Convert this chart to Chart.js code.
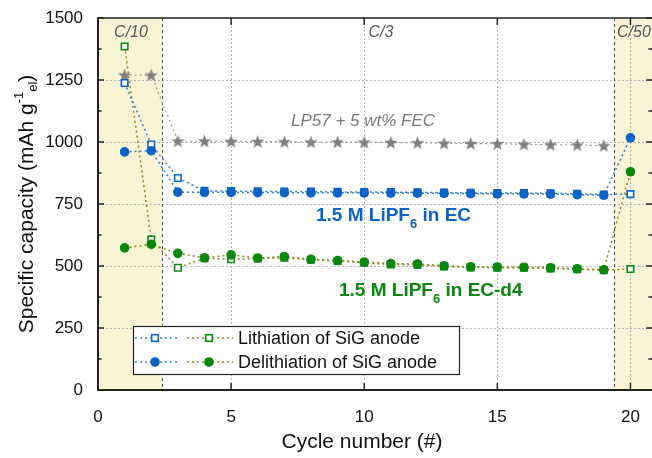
<!DOCTYPE html>
<html>
<head>
<meta charset="utf-8">
<script src="https://cdn.jsdelivr.net/npm/chart.js@4/dist/chart.umd.min.js"></script>
<style>
  html, body { margin: 0; padding: 0; background: #fff; }
  #wrap { width: 652px; height: 458px; position: relative; }
</style>
</head>
<body>
<div id="wrap"><canvas id="c" width="652" height="458"></canvas></div>
<script>
// ---------- DATA ----------
const cycles = [1,2,3,4,5,6,7,8,9,10,11,12,13,14,15,16,17,18,19,20];
const starCycles = [1,2,3,4,5,6,7,8,9,10,11,12,13,14,15,16,17,18,19];
const lp57Fec = [1270,1270,1004,1004,1003,1002,1001,1000,1000,999,998,997,995,994,993,991,989,988,985];
const ecLithiation = [1238,990,855,803,802,801,800,800,799,798,798,797,796,795,794,794,793,791,788,790];
const ecDelithiation = [960,965,798,797,797,796,796,795,795,795,794,794,793,792,791,791,790,788,785,1017];
const ecd4Lithiation = [1385,607,493,531,527,530,533,525,520,513,506,505,498,494,493,493,490,487,483,488];
const ecd4Delithiation = [573,587,551,533,545,532,538,527,522,516,510,508,501,497,496,495,493,489,485,880];
const xTicks = [0,5,10,15,20];
const yTicks = [0,250,500,750,1000,1250,1500];
const rateLabels = ['C/10','C/3','C/50'];
const legendLabels = ['Lithiation of SiG anode','Delithiation of SiG anode'];

// ---------- STYLE ----------
const BLUE = '#0b63c5', BLUE_LINE = '#2f7fd3';
const GREEN = '#0a870f', GREEN_LINE = '#8b8b1c';
const GRAY = '#7f7f7f';
const FONT = 'Arial, "Liberation Sans", sans-serif';

Chart.defaults.font.family = FONT;

function starCanvas(){
  const cv = document.createElement('canvas');
  cv.width = 15; cv.height = 15;
  const c = cv.getContext('2d');
  c.fillStyle = GRAY;
  c.beginPath();
  for (let i = 0; i < 10; i++) {
    const r = i % 2 === 0 ? 7 : 2.9;
    const a = -Math.PI/2 + i * Math.PI/5;
    const px = 7.5 + r*Math.cos(a), py = 8 + r*Math.sin(a);
    i === 0 ? c.moveTo(px,py) : c.lineTo(px,py);
  }
  c.closePath(); c.fill();
  return cv;
}
const STAR = starCanvas();

const pts = (xs, ys) => xs.map((v,i)=>({x:v, y:ys[i]}));

function series(label, data, color, lineColor, style, order){
  const sq = style === 'rect';
  return {
    label, data: pts(cycles, data), showLine: true, order,
    borderColor: lineColor, borderWidth: 1.5, borderDash: [2,3],
    pointStyle: style,
    pointRadius: sq ? 4.6 : 4.8,
    pointBackgroundColor: sq ? '#ffffff' : color,
    pointBorderColor: color,
    pointBorderWidth: sq ? 1.6 : 0,
    pointHoverRadius: sq ? 4.6 : 4.8,
    tension: 0
  };
}

const datasets = [
  { label:'LP57 + 5 wt% FEC', data: pts(starCycles, lp57Fec), showLine:true, order: 5,
    borderColor:'#9a9a9a', borderWidth:1.2, borderDash:[2,3], pointStyle: STAR,
    pointRadius:6, pointHoverRadius:6 },
  series('EC-d4 lithiation', ecd4Lithiation, GREEN, GREEN_LINE, 'rect', 4),
  series('EC-d4 delithiation', ecd4Delithiation, GREEN, GREEN_LINE, 'circle', 3),
  series('EC lithiation', ecLithiation, BLUE, BLUE_LINE, 'rect', 2),
  series('EC delithiation', ecDelithiation, BLUE, BLUE_LINE, 'circle', 1)
];

function drawRich(ctx, segs, x, y, align){
  let total = 0;
  segs.forEach(s => { ctx.font = s.font; s.w = ctx.measureText(s.t).width; total += s.w; });
  let cx = align === 'center' ? x - total/2 : (align === 'right' ? x - total : x);
  ctx.textBaseline = 'middle'; ctx.textAlign = 'left';
  segs.forEach(s => { ctx.font = s.font; ctx.fillStyle = s.color; ctx.fillText(s.t, cx, y + (s.dy||0)); cx += s.w; });
}

function dline(ctx, x1, y1, x2, y2){ ctx.beginPath(); ctx.moveTo(x1,y1); ctx.lineTo(x2,y2); ctx.stroke(); }

const decor = {
  id: 'decor',
  beforeDatasetsDraw(chart){
    const {ctx, chartArea:a, scales:{x, y}} = chart;
    ctx.save();
    const xl = x.getPixelForValue(2.4), xr = x.getPixelForValue(19.4);
    ctx.fillStyle = '#f8f4d5';
    ctx.fillRect(a.left, a.top, xl - a.left, a.bottom - a.top);
    ctx.fillRect(xr, a.top, chart.width - xr, a.bottom - a.top);
    // dotted grid
    ctx.strokeStyle = '#b4b4b4'; ctx.lineWidth = 1; ctx.setLineDash([2,2]);
    yTicks.forEach(v => { if (v > 0 && v < 1500) { const py = Math.round(y.getPixelForValue(v)) + 0.5; dline(ctx, a.left, py, a.right, py); } });
    xTicks.forEach(v => { if (v > 0) { const px = Math.round(x.getPixelForValue(v)) + 0.5; dline(ctx, px, a.top, px, a.bottom); } });
    // boundaries
    ctx.strokeStyle = '#4a4a4a'; ctx.setLineDash([3,3]);
    dline(ctx, Math.round(xl)+0.5, a.top, Math.round(xl)+0.5, a.bottom);
    dline(ctx, Math.round(xr)+0.5, a.top, Math.round(xr)+0.5, a.bottom);
    ctx.restore();
  },
  afterDatasetsDraw(chart){
    const {ctx, chartArea:a, scales:{x, y}} = chart;
    ctx.save();
    ctx.setLineDash([]);
    // frame
    ctx.strokeStyle = '#222'; ctx.lineWidth = 1.5;
    dline(ctx, a.left, a.top, a.right, a.top);
    ctx.lineWidth = 2;
    dline(ctx, a.left, a.top - 0.75, a.left, a.bottom + 1);
    dline(ctx, a.left - 1, a.bottom, a.right, a.bottom);
    // ticks
    ctx.lineWidth = 1.5; ctx.strokeStyle = '#222';
    for (let v = 0; v <= 1500; v += 125) {
      const py = y.getPixelForValue(v);
      const len = (v % 250 === 0) ? 6 : 3.5;
      dline(ctx, a.left, py, a.left + len, py);
      dline(ctx, a.right, py, a.right - len, py);
    }
    xTicks.forEach(v => {
      const px = x.getPixelForValue(v);
      dline(ctx, px, a.bottom, px, a.bottom - 7);
      dline(ctx, px, a.top, px, a.top + 7);
    });
    // rate labels
    ctx.fillStyle = '#555'; ctx.font = 'italic 16px ' + FONT; ctx.textBaseline = 'middle'; ctx.textAlign = 'center';
    ctx.fillText(rateLabels[0], 131, 33);
    ctx.fillText(rateLabels[1], 381, 33);
    ctx.textAlign = 'left';
    ctx.fillText(rateLabels[2], 617, 33);
    // series annotations
    ctx.fillStyle = '#7a7a7a'; ctx.font = 'italic 17px ' + FONT; ctx.textAlign = 'center';
    ctx.fillText('LP57 + 5 wt% FEC', 363, 121);
    const bf = 'bold 19px ' + FONT, sf = 'bold 13px ' + FONT;
    drawRich(ctx, [
      {t:'1.5 M LiPF', font:bf, color:BLUE},
      {t:'6', font:sf, color:BLUE, dy:8},
      {t:' in EC', font:bf, color:BLUE}
    ], 316, 216, 'left');
    drawRich(ctx, [
      {t:'1.5 M LiPF', font:bf, color:GREEN},
      {t:'6', font:sf, color:GREEN, dy:8},
      {t:' in EC-d4', font:bf, color:GREEN}
    ], 339, 291, 'left');
    // legend
    const L = 133, T = 326, R = 459, B = 374;
    ctx.fillStyle = '#fff'; ctx.fillRect(L, T, R-L, B-T);
    ctx.strokeStyle = '#222'; ctx.lineWidth = 1.2; ctx.strokeRect(L+0.5, T+0.5, R-L, B-T);
    const rows = [338, 362];
    rows.forEach((ry, i) => {
      ctx.lineWidth = 1.5; ctx.setLineDash([2,3]);
      ctx.strokeStyle = BLUE_LINE; dline(ctx, L+2, ry, 178, ry);
      ctx.strokeStyle = GREEN_LINE; dline(ctx, 187, ry, 233, ry);
      ctx.setLineDash([]);
      [[155, BLUE], [209, GREEN]].forEach(([mx, col]) => {
        if (i === 0) {
          ctx.fillStyle = '#fff'; ctx.strokeStyle = col; ctx.lineWidth = 1.6;
          ctx.fillRect(mx-3.3, ry-3.3, 6.6, 6.6); ctx.strokeRect(mx-3.3, ry-3.3, 6.6, 6.6);
        } else {
          ctx.fillStyle = col; ctx.beginPath(); ctx.arc(mx, ry, 4.8, 0, Math.PI*2); ctx.fill();
        }
      });
      ctx.fillStyle = '#111'; ctx.font = '18px ' + FONT; ctx.textAlign = 'left'; ctx.textBaseline = 'middle';
      ctx.fillText(legendLabels[i], 238, ry + 1);
    });
    // axis titles
    ctx.fillStyle = '#111';
    ctx.save();
    ctx.translate(27, 204); ctx.rotate(-Math.PI/2);
    const tf = '21px ' + FONT, tsf = '13px ' + FONT;
    drawRich(ctx, [
      {t:'Specific capacity (mAh g', font:tf, color:'#111'},
      {t:'-1', font:tsf, color:'#111', dy:-8},
      {t:'el', font:tsf, color:'#111', dy:6},
      {t:')', font:tf, color:'#111'}
    ], 0, 0, 'center');
    ctx.restore();
    ctx.font = '21px ' + FONT; ctx.textAlign = 'center'; ctx.textBaseline = 'middle'; ctx.fillStyle = '#111';
    ctx.fillText('Cycle number (#)', 362, 442);
    ctx.restore();
  }
};

new Chart(document.getElementById('c'), {
  type: 'scatter',
  data: { datasets },
  options: {
    responsive: false, animation: false,
    layout: { autoPadding: false, padding: { top: 18, right: 0, left: 0, bottom: 0 } },
    plugins: { legend: { display: false }, tooltip: { enabled: false } },
    scales: {
      x: {
        type: 'linear', min: 0, max: 20.81,
        grid: { display: false }, border: { display: false },
        ticks: { stepSize: 5, includeBounds: false, padding: 9, color: '#111', font: { size: 17 }, maxRotation: 0,
                 callback: v => xTicks.includes(v) ? String(v) : '' },
        afterFit: s => { s.height = 68; s.paddingLeft = 0; s.paddingRight = 0; }
      },
      y: {
        min: 0, max: 1500,
        grid: { display: false }, border: { display: false },
        ticks: { stepSize: 250, padding: 7, color: '#111', font: { size: 17 },
                 callback: v => yTicks.includes(v) ? String(v) : '' },
        afterFit: s => { s.width = 98; s.paddingTop = 0; s.paddingBottom = 0; }
      }
    }
  },
  plugins: [decor]
});
</script>
</body>
</html>
